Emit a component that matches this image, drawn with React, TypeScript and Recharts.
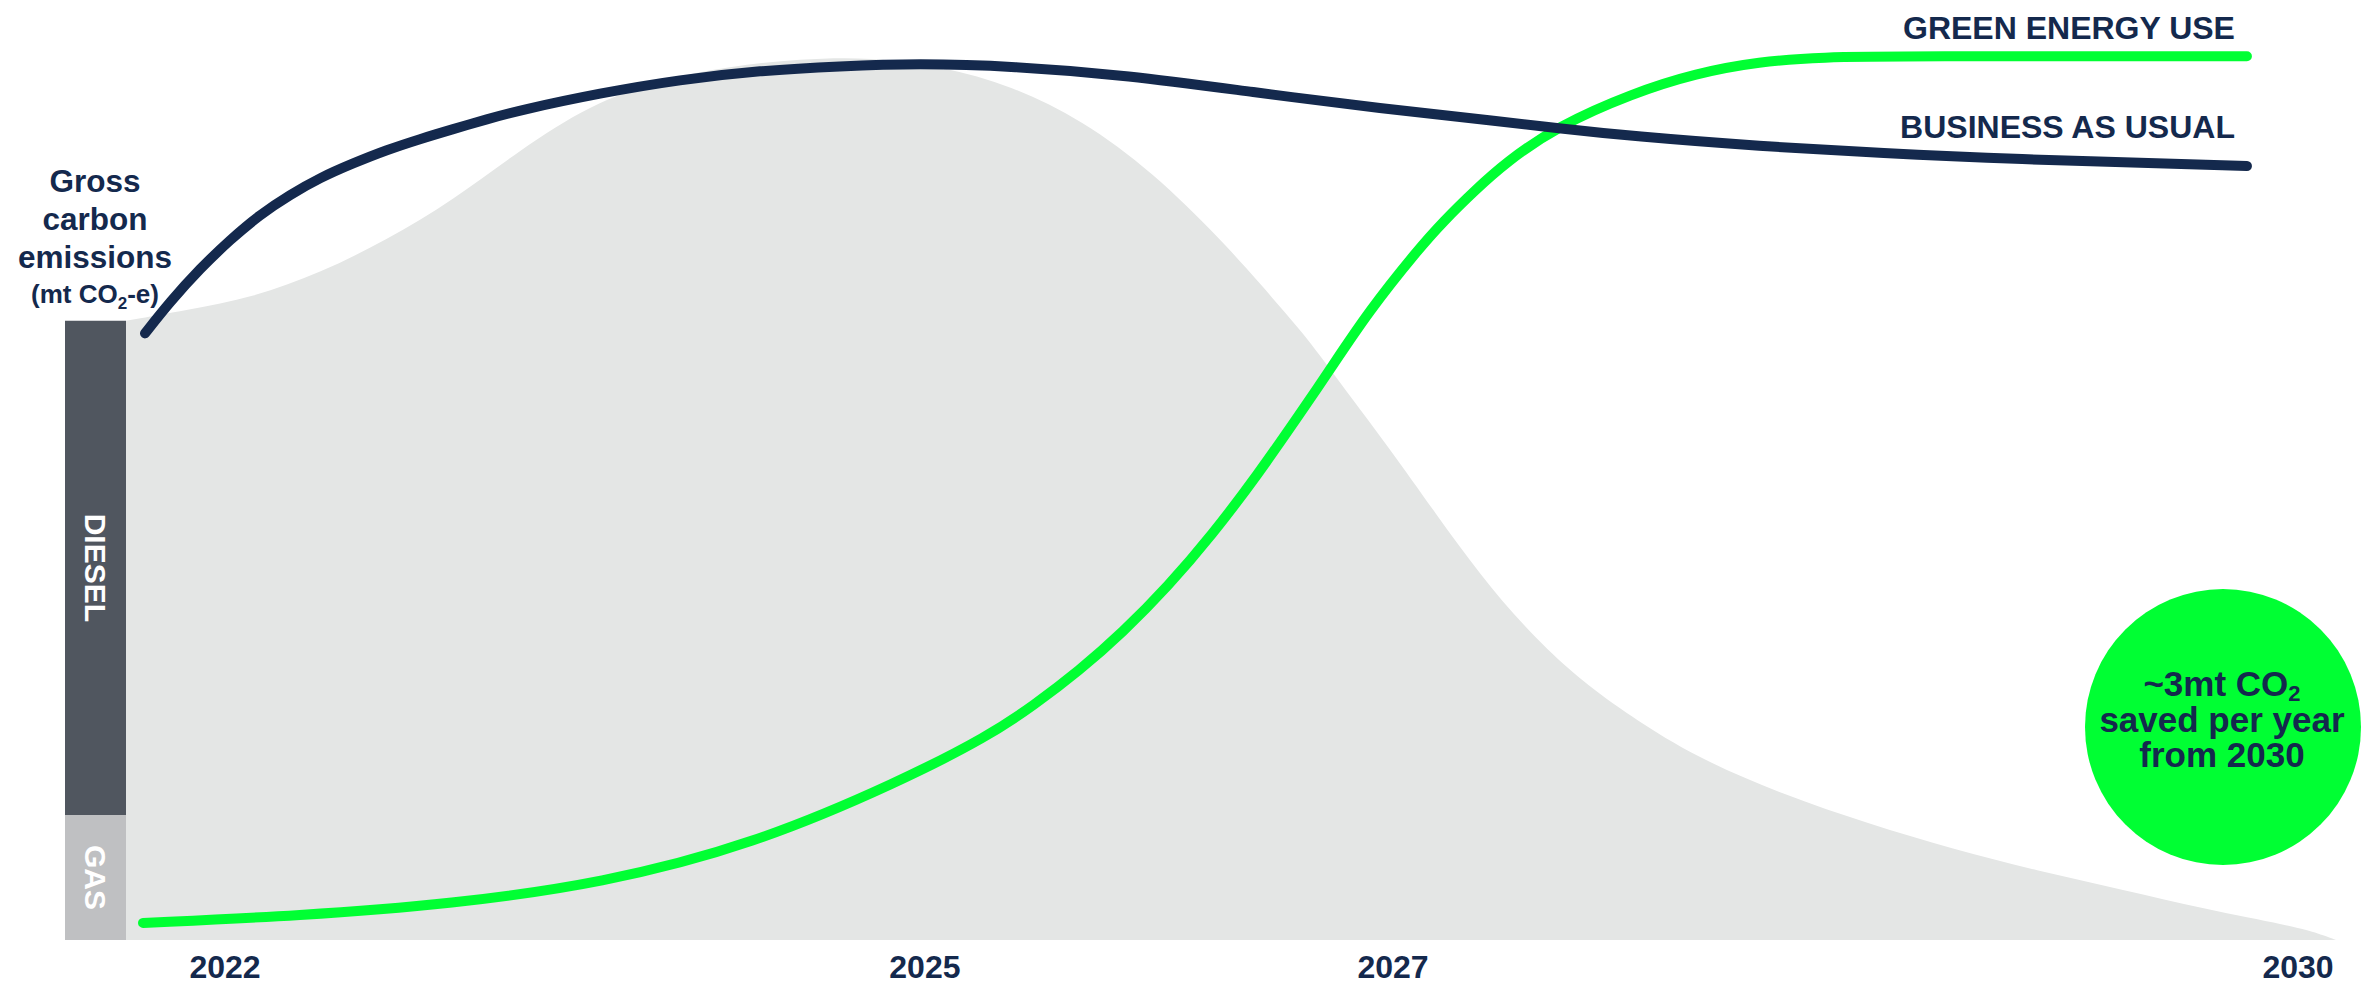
import React from 'react';
import { ComposedChart, Area, Line, XAxis, YAxis, BarChart, Bar, LabelList } from 'recharts';

const NAVY = '#14294D';
const GREEN = '#00FF33';
const GRAY_AREA = '#E4E6E5';
const DIESEL_COLOR = '#50565F';
const GAS_COLOR = '#BFC0C2';
const FONT = '"Liberation Sans", Arial, Helvetica, sans-serif';

const W = 2361;
const H = 985;

// Timeline position (0 = start of plot, 100 = end of horizon) and tick labels
const TICK_POS = [4.48, 36.15, 57.33, 98.28];
const TICK_LABELS = ['2022', '2025', '2027', '2030'];

// Gross emissions with green energy transition (grey area)
const EMISSIONS_T = [0, 2.76, 5.75, 8.78, 11.81, 14.8, 17.83, 21.0, 24.16, 27.33, 30.5, 33.67, 36.92, 40.09, 43.26, 46.47, 49.55, 51.18, 53.21, 54.43, 57.24, 59.28, 61.27, 63.3, 65.34, 66.7, 68.19, 71.04, 75.02, 78.87, 82.67, 86.47, 90.32, 94.12, 97.92, 99.28, 100];
const EMISSIONS_V = [68.8, 70.0, 71.4, 74.1, 77.8, 82.2, 87.8, 92.8, 95.6, 97.1, 97.9, 98.1, 97.1, 94.9, 91.1, 85.3, 77.8, 73.3, 67.6, 63.6, 54.4, 47.3, 40.6, 34.7, 29.9, 27.3, 24.7, 20.3, 16.1, 12.9, 10.1, 7.7, 5.6, 3.4, 1.6, 0.7, 0];

// Business as usual
const BAU_NAME = 'BUSINESS AS USUAL';
const BAU_T = [0.86, 1.99, 3.35, 4.71, 6.06, 7.42, 8.78, 10.27, 11.81, 13.3, 14.8, 16.33, 17.83, 21.45, 25.07, 28.69, 32.31, 35.84, 40.09, 45.29, 51.0, 56.74, 62.44, 64.75, 68.19, 73.89, 79.64, 84.8, 95.97];
const BAU_V = [67.4, 70.9, 74.6, 77.8, 80.6, 82.8, 84.7, 86.3, 87.8, 89.0, 90.1, 91.2, 92.2, 94.1, 95.6, 96.6, 97.1, 97.4, 97.1, 96.1, 94.2, 92.4, 90.9, 90.2, 89.3, 88.2, 87.4, 86.8, 86.0];

// Green energy use
const GREEN_NAME = 'GREEN ENERGY USE';
const GREEN_T = [0.77, 7.92, 14.75, 21.54, 28.37, 35.02, 39.05, 41.09, 43.12, 45.11, 47.15, 49.14, 51.18, 53.21, 54.43, 56.24, 58.46, 59.59, 61.04, 62.44, 64.75, 68.19, 71.04, 73.89, 76.79, 80.27, 95.97];
const GREEN_V = [1.9, 2.7, 4.0, 6.3, 10.6, 17.6, 22.7, 26.1, 29.9, 34.2, 39.3, 45.0, 51.6, 58.8, 63.2, 69.9, 76.7, 79.8, 83.3, 86.4, 90.4, 94.1, 96.3, 97.6, 98.1, 98.2, 98.2];

// 2022 emissions mix bar
const MIX_CATEGORY = ['2022'];
const MIX_NAMES = ['GAS', 'DIESEL'];
const GAS_V = [13.9];
const DIESEL_V = [54.9];

const emissionsData = EMISSIONS_T.map((t, i) => ({ t, v: EMISSIONS_V[i] }));
const bauData = BAU_T.map((t, i) => ({ t, v: BAU_V[i] }));
const greenData = GREEN_T.map((t, i) => ({ t, v: GREEN_V[i] }));
const mixData = MIX_CATEGORY.map((c, i) => ({ c, gas: GAS_V[i], diesel: DIESEL_V[i] }));

const MARGIN = { top: 40, right: 25, bottom: 0, left: 126 };
const X_AXIS_H = 45;

const XTick = (props: any) => {
  const { x, y, payload } = props;
  let idx = 0;
  let best = Infinity;
  TICK_POS.forEach((p, i) => {
    const d = Math.abs(p - payload.value);
    if (d < best) { best = d; idx = i; }
  });
  return (
    <text x={x} y={y + 38} textAnchor="middle" fontSize={32} fontWeight={700} fill={NAVY} fontFamily={FONT}>
      {TICK_LABELS[idx]}
    </text>
  );
};

const seriesLabel = (name: string, dy: number, lastIndex: number) => (p: any) => {
  if (p.index !== lastIndex) return null;
  return (
    <text key={name} x={p.x - 12} y={p.y - dy} textAnchor="end" fontSize={32} fontWeight={700} fill={NAVY} fontFamily={FONT}>
      {name}
    </text>
  );
};

const barName = (name: string) => (p: any) => {
  const cx = p.x + p.width / 2;
  const cy = p.y + p.height / 2;
  return (
    <text key={name} x={cx} y={cy} transform={`rotate(90, ${cx}, ${cy})`} textAnchor="middle" dominantBaseline="central" fontSize={30} fontWeight={700} fill="#FFFFFF" fontFamily={FONT}>
      {name}
    </text>
  );
};

export default function App() {
  return (
    <div style={{ position: 'absolute', left: 0, top: 0, width: W, height: H, background: '#FFFFFF', overflow: 'hidden' }}>
      <div style={{ position: 'absolute', left: 0, top: 0 }}>
        <ComposedChart width={W} height={H} margin={MARGIN}>
          <XAxis
            dataKey="t"
            type="number"
            domain={[0, 100]}
            ticks={TICK_POS}
            allowDataOverflow
            axisLine={false}
            tickLine={false}
            tickSize={0}
            tickMargin={0}
            height={X_AXIS_H}
            tick={<XTick />}
            interval={0}
          />
          <YAxis type="number" domain={[0, 100]} hide allowDataOverflow />
          <Area
            data={emissionsData}
            dataKey="v"
            type="basis"
            fill={GRAY_AREA}
            fillOpacity={1}
            stroke="none"
            isAnimationActive={false}
            dot={false}
            activeDot={false}
          />
          <Line
            data={greenData}
            dataKey="v"
            type="basis"
            stroke={GREEN}
            strokeWidth={10}
            strokeLinecap="round"
            dot={false}
            activeDot={false}
            isAnimationActive={false}
            label={seriesLabel(GREEN_NAME, 17, greenData.length - 1)}
          />
          <Line
            data={bauData}
            dataKey="v"
            type="basis"
            stroke={NAVY}
            strokeWidth={10}
            strokeLinecap="round"
            dot={false}
            activeDot={false}
            isAnimationActive={false}
            label={seriesLabel(BAU_NAME, 28, bauData.length - 1)}
          />
        </ComposedChart>
      </div>
      <div style={{ position: 'absolute', left: 65, top: 0 }}>
        <BarChart width={61} height={H} data={mixData} margin={{ top: MARGIN.top, right: 0, bottom: X_AXIS_H, left: 0 }} barCategoryGap={0} barGap={0}>
          <XAxis dataKey="c" type="category" hide />
          <YAxis type="number" domain={[0, 100]} hide allowDataOverflow />
          <Bar dataKey="gas" stackId="mix" fill={GAS_COLOR} isAnimationActive={false}>
            <LabelList dataKey="gas" content={barName(MIX_NAMES[0])} />
          </Bar>
          <Bar dataKey="diesel" stackId="mix" fill={DIESEL_COLOR} isAnimationActive={false}>
            <LabelList dataKey="diesel" content={barName(MIX_NAMES[1])} />
          </Bar>
        </BarChart>
      </div>
      <svg width={W} height={H} style={{ position: 'absolute', left: 0, top: 0, pointerEvents: 'none' }}>
        <text fontFamily={FONT} fontWeight={700} fill={NAVY} textAnchor="middle" fontSize={31.5}>
          <tspan x={95} y={192}>Gross</tspan>
          <tspan x={95} y={230}>carbon</tspan>
          <tspan x={95} y={268}>emissions</tspan>
          <tspan x={95} y={303} fontSize={26}>(mt CO</tspan>
          <tspan fontSize={17} dy={6}>2</tspan>
          <tspan fontSize={26} dy={-6}>-e)</tspan>
        </text>
        <circle cx={2223} cy={727} r={138} fill={GREEN} />
        <text fontFamily={FONT} fontWeight={700} fill={NAVY} textAnchor="middle" fontSize={35}>
          <tspan x={2222} y={696}>~3mt CO</tspan>
          <tspan fontSize={22} dy={5}>2</tspan>
          <tspan x={2222} y={732}>saved per year</tspan>
          <tspan x={2222} y={767}>from 2030</tspan>
        </text>
      </svg>
    </div>
  );
}
